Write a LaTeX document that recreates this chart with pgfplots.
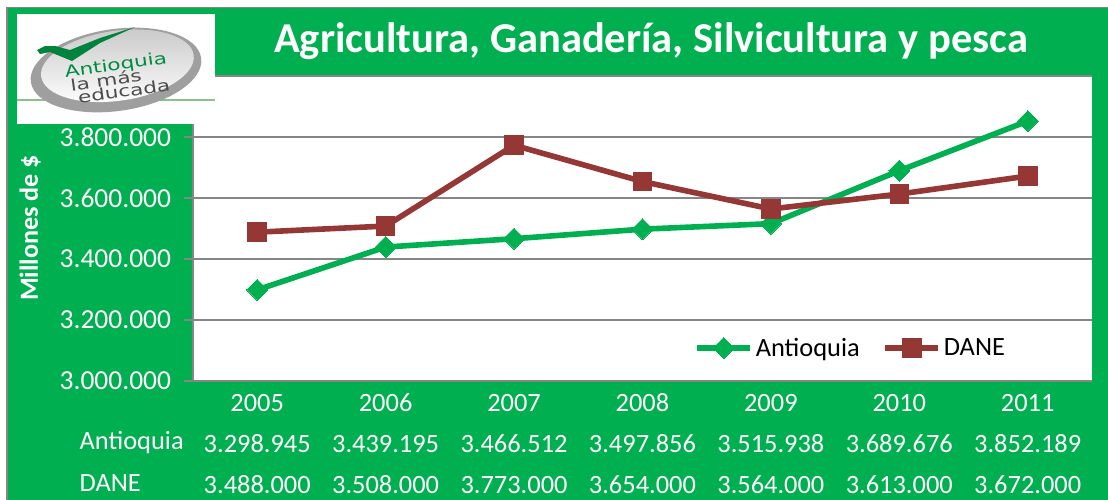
\documentclass[border=0pt]{standalone}
\usepackage{fontspec}
\setmainfont{Carlito}
\newfontfamily\logofont{DejaVu Sans}
\usepackage{pgfplots}
\pgfplotsset{compat=1.18}
\definecolor{verde}{HTML}{00AF50}
\definecolor{rojo}{HTML}{953735}
\definecolor{linea}{HTML}{868686}
\pgfplotstableread{
anio antioquia dane
2005 3298945 3488000
2006 3439195 3508000
2007 3466512 3773000
2008 3497856 3654000
2009 3515938 3564000
2010 3689676 3613000
2011 3852189 3672000
}\datos
\newcommand{\fila}{\rule{0pt}{14pt}}
\begin{document}
\begin{tikzpicture}[x=0.75pt,y=-0.75pt]
\useasboundingbox (0,0) rectangle (1108,500);
\fill[white] (0,0) rectangle (1108,500);
\fill[verde] (7,8) rectangle (1108,500);
\draw[linea,line width=1.1pt] (7,500) -- (7,7.5) -- (1108,7.5);
\begin{axis}[
    at={(144.75pt,-285.75pt)},
    anchor=south west,
    scale only axis,
    width=674.25pt,
    height=228.75pt,
    xmin=2004.5, xmax=2011.5,
    ymin=3000000, ymax=4000000,
    ytick={3000000,3200000,3400000,3600000,3800000},
    yticklabels={3.000.000,3.200.000,3.400.000,3.600.000,3.800.000},
    xtick={2005,...,2011},
    xticklabels={
        {\fila 2005\\3.298.945\\3.488.000},
        {\fila 2006\\3.439.195\\3.508.000},
        {\fila 2007\\3.466.512\\3.773.000},
        {\fila 2008\\3.497.856\\3.654.000},
        {\fila 2009\\3.515.938\\3.564.000},
        {\fila 2010\\3.689.676\\3.613.000},
        {\fila 2011\\3.852.189\\3.672.000}},
    xticklabel style={align=center,text=white,font=\fontsize{19.8}{30.75}\selectfont,yshift=0.9pt},
    x tick style={draw=none},
    y tick style={linea,line width=1.1pt},
    tick align=outside,
    major tick length=6.5pt,
    yticklabel style={text=white,font=\fontsize{20.6}{24}\selectfont,xshift=-6.5pt},
    axis background/.style={fill=white},
    axis line style={linea,line width=1.1pt},
    axis x line*=bottom,
    axis y line*=left,
    ymajorgrids=true,
    grid style={linea,line width=1.1pt},
    legend style={at={(0.5575,0.1085)},anchor=west,draw=none,fill=none,inner sep=0pt,legend columns=2,
        font=\fontsize{19.8}{24}\selectfont,/tikz/every even column/.append style={column sep=15pt}},
    legend image code/.code={\draw[mark repeat=2,mark phase=2,#1] plot coordinates {(0cm,0cm) (0.7cm,0cm) (1.4cm,0cm)};},
]
\addplot[verde,line width=4.2pt,mark=square*,mark size=5.6pt,mark options={rotate=45,fill=verde,draw=verde,line width=0pt,solid}] table[x=anio,y=antioquia] {\datos};
\addlegendentry{Antioquia}
\addplot[rojo,line width=4.2pt,mark=square*,mark size=7pt,mark options={fill=rojo,draw=rojo,line width=0pt,solid}] table[x=anio,y=dane] {\datos};
\addlegendentry{DANE}
\end{axis}
% encabezado
\fill[verde] (215,8) rectangle (1108,75);
\draw[linea,line width=1.1pt] (215,76) -- (1092,76);
\node[text=white,font=\fontsize{31.9}{36}\selectfont\bfseries,anchor=center] at (651,41) {Agricultura, Ganadería, Silvicultura y pesca};
\node[text=white,font=\fontsize{19.6}{24}\selectfont\bfseries,rotate=90] at (30,228) {Millones de \$};
\node[text=white,font=\fontsize{19.8}{24}\selectfont,anchor=west] at (75,442) {Antioquia};
\node[text=white,font=\fontsize{19.8}{24}\selectfont,anchor=west] at (75,483) {DANE};
% logo
\fill[white] (17,14) rectangle (215,124);
\draw[color=green!30!gray!70,line width=0.9pt] (17,100) -- (215,100);
\fill[gray!75,rotate around={8:(116,70)}] (116,70) ellipse (86 and 41);
\shade[top color=gray!40,bottom color=white,rotate around={8:(116,70)}] (118,66) ellipse (77 and 35);
\fill[verde!75!black] (37,50) -- (45,46) -- (55,46) -- (70,50) -- (100,38) -- (135,27) -- (100,43) -- (72,61) -- (50,52) -- (40,54) -- cycle;
\node[rotate=8,text=verde!80!black,font=\logofont\fontsize{12}{12}\selectfont,xscale=1.35,inner sep=0pt] at (116,66) {Antioquia};
\node[rotate=8,text=black!70,font=\logofont\fontsize{12}{12}\selectfont,xscale=1.35,inner sep=0pt] at (106,80) {la más};
\node[rotate=8,text=black!70,font=\logofont\fontsize{12}{12}\selectfont,xscale=1.35,inner sep=0pt] at (124,91) {educada};
\end{tikzpicture}
\end{document}
